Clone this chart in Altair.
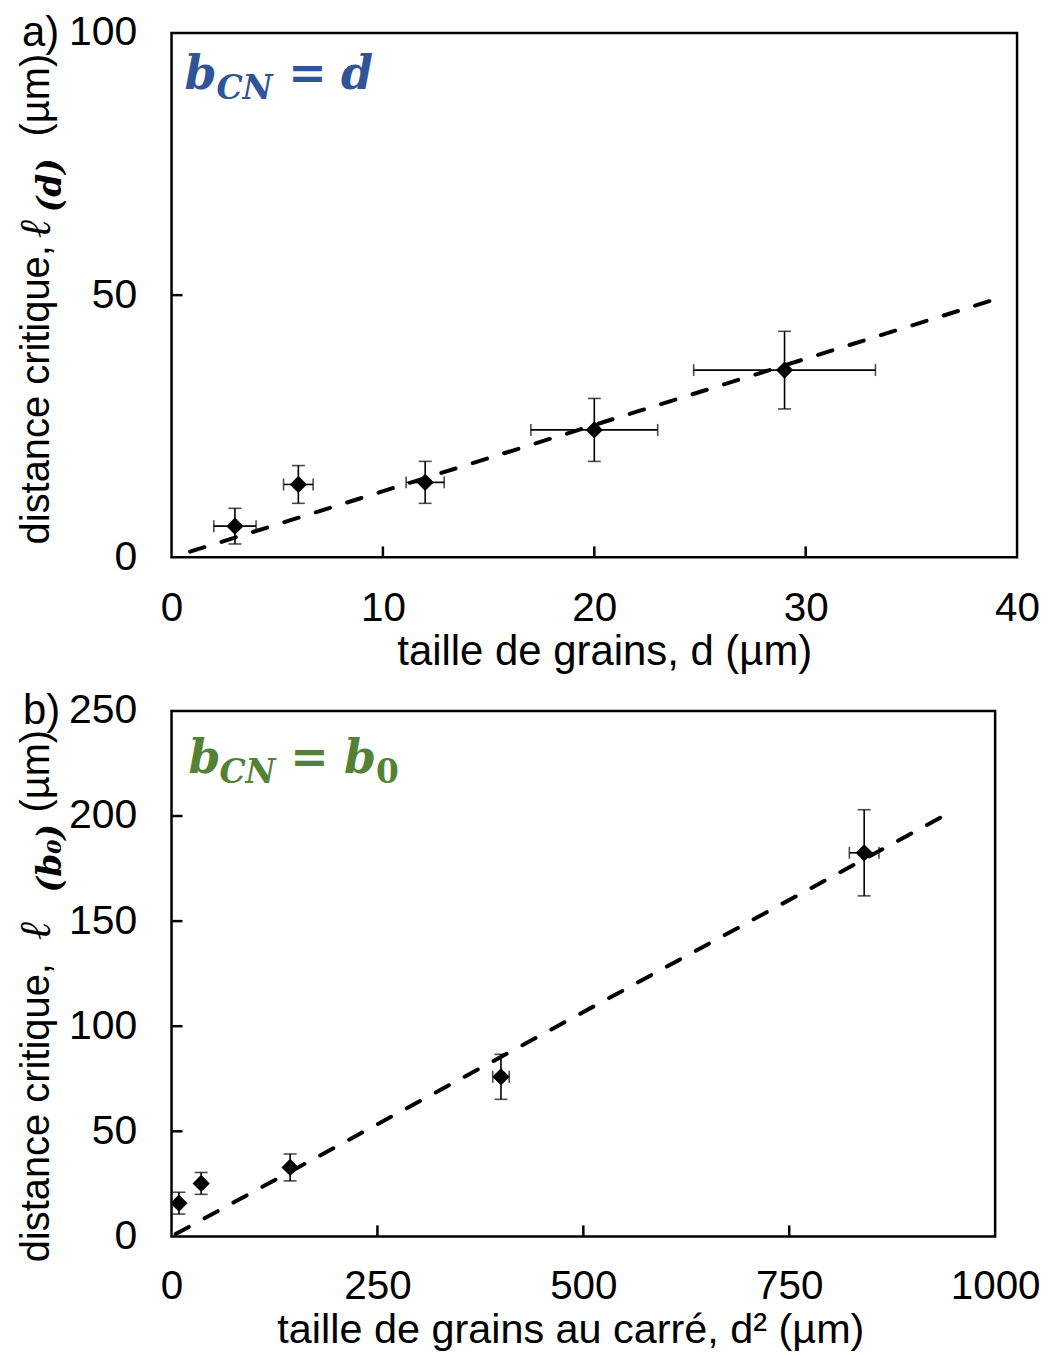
import altair as alt
import pandas as pd

# ---------------- Panel a : b_CN = d ----------------
d_vals = [3, 6, 12, 20, 29]
l_d_vals = [5.95, 13.9, 14.3, 24.3, 35.7]
l_d_err = [3.4, 3.6, 4.0, 6.0, 7.4]
d_err = [1.0, 0.7, 0.9, 3.0, 4.3]
fit_a_x = [0.88, 38.85]
fit_a_y = [1.08, 49.05]
xticks_a = [0, 10, 20, 30, 40]
yticks_a = [0, 50, 100]

# ---------------- Panel b : b_CN = b0 ----------------
d2_vals = [9, 36, 144, 400, 841]
l_b0_vals = [15.8, 25.2, 32.8, 75.9, 182.5]
l_b0_err = [5.2, 5.2, 6.4, 10.7, 20.5]
d2_err = [0, 0, 0, 10, 18]
fit_b_x = [5, 940]
fit_b_y = [1.1, 200.6]
xticks_b = [0, 250, 500, 750, 1000]
yticks_b = [0, 50, 100, 150, 200, 250]

SANS = "Liberation Sans"
SERIF = "DejaVu Serif"
BLUE = "#2F5597"
GREEN = "#548235"


def txt(t, x, y, size, font=SANS, weight="normal", style="normal", color="black",
        angle=0, align="left", baseline="alphabetic"):
    return alt.Chart(pd.DataFrame({"t": [t]})).mark_text(
        font=font, fontSize=size, fontWeight=weight, fontStyle=style, color=color,
        angle=angle, align=align, baseline=baseline
    ).encode(x=alt.value(x), y=alt.value(y), text="t:N")


def panel(xs, ys, yerr, xerr, fitx, fity, xticks, yticks, W, H, xtitle, title_x, extra,
          label_pad, title_size):
    df = pd.DataFrame({
        "x": xs, "y": ys,
        "ylo": [a - b for a, b in zip(ys, yerr)],
        "yhi": [a + b for a, b in zip(ys, yerr)],
        "xlo": [a - b for a, b in zip(xs, xerr)],
        "xhi": [a + b for a, b in zip(xs, xerr)],
        "xe": xerr,
    })
    dfx = df[df["xe"] > 0]
    xsc = alt.Scale(domain=[xticks[0], xticks[-1]], nice=False, zero=False)
    ysc = alt.Scale(domain=[yticks[0], yticks[-1]], nice=False, zero=False)
    xax = alt.Axis(values=xticks, title=xtitle, grid=False, ticks=False, domain=False,
                   format="d",
                   labelFont=SANS, labelFontSize=40.5, labelColor="black",
                   labelPadding=label_pad,
                   titleFont=SANS, titleFontSize=title_size, titleFontWeight="normal",
                   titleColor="black", titlePadding=3, titleX=title_x, labelFlush=False)
    yax = alt.Axis(values=yticks, title=None, grid=False, ticks=False, domain=False,
                   format="d",
                   labelFont=SANS, labelFontSize=41, labelColor="black", labelPadding=35)

    def X(f):
        return alt.X(f"{f}:Q", scale=xsc, axis=xax, title=xtitle)

    def Y(f):
        return alt.Y(f"{f}:Q", scale=ysc, axis=yax, title=None)

    fit = alt.Chart(pd.DataFrame({"x": fitx, "y": fity})).mark_line(
        color="black", strokeWidth=4, strokeDash=[15, 18], strokeCap="round"
    ).encode(x=X("x"), y=Y("y"))

    vbar = alt.Chart(df).mark_rule(color="black", strokeWidth=1.6).encode(
        x=X("x"), y=Y("ylo"), y2="yhi:Q")
    vcap1 = alt.Chart(df).mark_tick(color="black", orient="horizontal", size=13,
                                    thickness=1.6).encode(x=X("x"), y=Y("ylo"))
    vcap2 = alt.Chart(df).mark_tick(color="black", orient="horizontal", size=13,
                                    thickness=1.6).encode(x=X("x"), y=Y("yhi"))
    hbar = alt.Chart(dfx).mark_rule(color="black", strokeWidth=1.6).encode(
        y=Y("y"), x=X("xlo"), x2="xhi:Q")
    hcap1 = alt.Chart(dfx).mark_tick(color="black", orient="vertical", size=12,
                                     thickness=1.6).encode(x=X("xlo"), y=Y("y"))
    hcap2 = alt.Chart(dfx).mark_tick(color="black", orient="vertical", size=12,
                                     thickness=1.6).encode(x=X("xhi"), y=Y("y"))
    pts = alt.Chart(df).mark_point(shape="diamond", filled=True, size=300, color="black",
                                   opacity=1).encode(x=X("x"), y=Y("y"))

    xt = alt.Chart(pd.DataFrame({"v": xticks[1:-1]})).mark_rule(
        color="black", strokeWidth=2.5).encode(x=X("v"), y=alt.value(H), y2=alt.value(H - 11))
    yt = alt.Chart(pd.DataFrame({"v": yticks[1:-1]})).mark_rule(
        color="black", strokeWidth=2.5).encode(y=Y("v"), x=alt.value(0), x2=alt.value(11))

    layers = [fit, vbar, vcap1, vcap2, hbar, hcap1, hcap2, pts, xt, yt] + extra
    return alt.layer(*layers).properties(width=W, height=H)


extra_a = [
    txt("a)", -150, 0, 42, baseline="middle"),
    txt("distance critique,", -135, 513, 40, angle=270, baseline="middle"),
    txt("ℓ", -135, 206, 44, font=SERIF, style="italic", angle=270, baseline="middle"),
    txt("(𝒅)", -121, 180, 33, font=SERIF, weight="bold", style="italic", angle=270,
        baseline="middle"),
    txt("(µm)", -135, 104, 40, angle=270, baseline="middle"),
    txt("b", 13, 56, 46, font=SERIF, weight="bold", style="italic", color=BLUE),
    txt("CN", 45, 66, 33, font=SERIF, weight="bold", style="italic", color=BLUE),
    txt("=", 117, 56, 46, font=SERIF, weight="bold", color=BLUE),
    txt("d", 170, 56, 46, font=SERIF, weight="bold", style="italic", color=BLUE),
]

extra_b = [
    txt("b)", -149, 0, 42, baseline="middle"),
    txt("distance critique,", -135, 553, 40, angle=270, baseline="middle"),
    txt("ℓ", -135, 230, 44, font=SERIF, style="italic", angle=270, baseline="middle"),
    txt("(𝒃₀)", -121, 182, 33, font=SERIF, weight="bold", style="italic", angle=270,
        baseline="middle"),
    txt("(µm)", -135, 102, 40, angle=270, baseline="middle"),
    txt("b", 17, 62, 46, font=SERIF, weight="bold", style="italic", color=GREEN),
    txt("CN", 48, 72, 33, font=SERIF, weight="bold", style="italic", color=GREEN),
    txt("=", 119, 62, 46, font=SERIF, weight="bold", color=GREEN),
    txt("b", 173, 62, 46, font=SERIF, weight="bold", style="italic", color=GREEN),
    txt("0", 205, 72, 33, font=SERIF, weight="bold", color=GREEN),
]

top = panel(d_vals, l_d_vals, l_d_err, d_err, fit_a_x, fit_a_y, xticks_a, yticks_a,
            848, 526, "taille de grains, d (µm)", 434, extra_a, 31, 42)
bottom = panel(d2_vals, l_b0_vals, l_b0_err, d2_err, fit_b_x, fit_b_y, xticks_b, yticks_b,
               826, 527, "taille de grains au carré, d² (µm)", 400, extra_b, 30, 41.5)

chart = alt.vconcat(top, bottom, spacing=154, bounds="flush").resolve_scale(
    x="independent", y="independent"
).configure_view(
    stroke="black", strokeWidth=2.5
).properties(
    padding={"left": 5, "top": 0, "right": 0, "bottom": 0},
    background="white",
)

chart.save("out.html", embed_options={"renderer": "svg", "actions": False})
